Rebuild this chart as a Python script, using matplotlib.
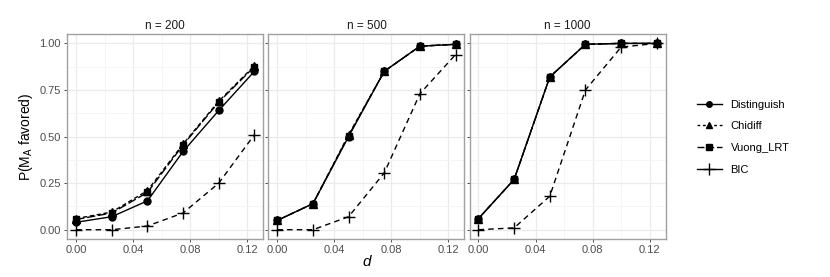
import matplotlib.pyplot as plt
from matplotlib.lines import Line2D

plt.rcParams['font.family'] = ['Liberation Sans', 'DejaVu Sans']

d = [0.0, 0.025, 0.05, 0.075, 0.1, 0.125]
panels = ['n = 200', 'n = 500', 'n = 1000']

distinguish = [[0.04, 0.07, 0.155, 0.42, 0.64, 0.85],
               [0.05, 0.14, 0.50, 0.85, 0.985, 0.995],
               [0.06, 0.27, 0.82, 0.995, 1.0, 1.0]]
chidiff = [[0.06, 0.095, 0.21, 0.46, 0.69, 0.88],
           [0.05, 0.14, 0.51, 0.85, 0.985, 0.995],
           [0.06, 0.27, 0.82, 0.995, 1.0, 1.0]]
vuong = [[0.055, 0.09, 0.20, 0.455, 0.685, 0.875],
         [0.05, 0.14, 0.505, 0.85, 0.985, 0.995],
         [0.06, 0.27, 0.82, 0.995, 1.0, 1.0]]
bic = [[0.0, 0.0, 0.02, 0.09, 0.25, 0.51],
       [0.0, 0.0, 0.07, 0.305, 0.73, 0.94],
       [0.0, 0.01, 0.18, 0.75, 0.98, 1.0]]

fig = plt.figure(figsize=(8.3, 2.77), dpi=100)
gs = fig.add_gridspec(1, 3, left=0.081, right=0.802, top=0.877, bottom=0.137, wspace=0.026)

tick_col = '#4D4D4D'
for i in range(3):
    ax = fig.add_subplot(gs[0, i])
    ax.plot(d, bic[i], color='black', lw=1.0, ls=(0, (4, 3)), marker='+', ms=8, mew=1.0)
    ax.plot(d, chidiff[i], color='black', lw=1.0, ls=(0, (3, 2)), marker='^', ms=5.5)
    ax.plot(d, vuong[i], color='black', lw=1.0, ls=(0, (6, 2)), marker='s', ms=5)
    ax.plot(d, distinguish[i], color='black', lw=1.0, ls='-', marker='o', ms=5)

    ax.set_xlim(-0.00625, 0.13125)
    ax.set_ylim(-0.05, 1.05)
    ax.set_xticks([0.0, 0.04, 0.08, 0.12])
    ax.set_xticklabels(['0.00', '0.04', '0.08', '0.12'])
    ax.set_xticks([0.02, 0.06, 0.10], minor=True)
    ax.set_yticks([0.0, 0.25, 0.5, 0.75, 1.0])
    ax.set_yticks([0.125, 0.375, 0.625, 0.875], minor=True)
    if i == 0:
        ax.set_yticklabels(['0.00', '0.25', '0.50', '0.75', '1.00'])
    else:
        ax.set_yticklabels([])
    ax.grid(True, which='major', color='#EBEBEB', lw=0.9)
    ax.grid(True, which='minor', color='#F4F4F4', lw=0.6)
    ax.set_axisbelow(True)
    ax.tick_params(which='major', length=2.5, width=0.6, color='#333333', labelsize=8,
                   labelcolor=tick_col, pad=2)
    ax.tick_params(which='minor', length=0)
    for s in ax.spines.values():
        s.set_color('#A0A0A0')
        s.set_linewidth(1.0)
    ax.set_title(panels[i], fontsize=8.5, color='#1A1A1A', pad=4)
    if i == 0:
        ax.set_ylabel(r'P(M$_\mathregular{A}$ favored)', fontsize=10, labelpad=3)
    if i == 1:
        ax.set_xlabel('d', fontsize=11, style='italic', labelpad=0)

handles = [
    Line2D([], [], color='black', lw=1.0, ls='-', marker='o', ms=4),
    Line2D([], [], color='black', lw=1.0, ls=(0, (2, 2)), marker='^', ms=4.5),
    Line2D([], [], color='black', lw=1.0, ls=(0, (5, 2)), marker='s', ms=4),
    Line2D([], [], color='black', lw=1.0, ls='-', marker='+', ms=8, mew=1.0),
]
labels = ['Distinguish', 'Chidiff', 'Vuong_LRT', 'BIC']
fig.legend(handles, labels, loc='center left', bbox_to_anchor=(0.828, 0.505),
           frameon=False, fontsize=8, handlelength=2.2, labelspacing=1.05,
           handletextpad=0.8)

plt.savefig('out.png', dpi=100)
